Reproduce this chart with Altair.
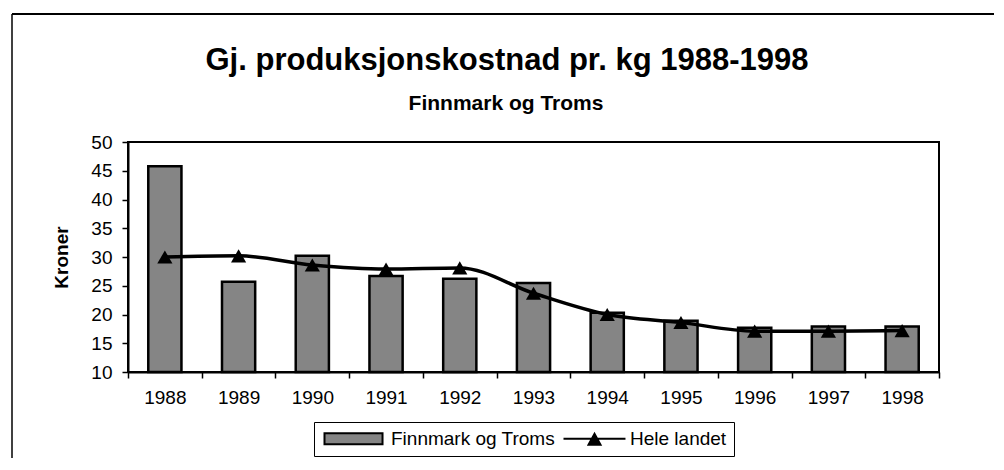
import altair as alt
import pandas as pd

years = ["1988", "1989", "1990", "1991", "1992", "1993", "1994", "1995", "1996", "1997", "1998"]
finnmark = [45.8, 25.7, 30.2, 26.7, 26.2, 25.5, 20.3, 18.9, 17.7, 17.9, 17.9]
hele_landet = [30.0, 30.2, 28.6, 27.9, 28.1, 23.7, 20.0, 18.6, 17.1, 17.1, 17.2]
series_names = ["Finnmark og Troms", "Hele landet"]
y_ticks = [10, 15, 20, 25, 30, 35, 40, 45, 50]
title_text = ["Gj. produksjonskostnad pr. kg 1988-1998"]
subtitle_text = ["Finnmark og Troms"]
y_title = "Kroner"

FONT = "Liberation Sans"
BAR_FILL = "#858585"

df = pd.DataFrame({
    "year": years * 2,
    "value": finnmark + hele_landet,
    "series": [series_names[0]] * len(years) + [series_names[1]] * len(years),
})

x_enc = alt.X(
    "year:N",
    title=None,
    sort=years,
    scale=alt.Scale(paddingInner=0, paddingOuter=0),
    axis=alt.Axis(labelAngle=0, tickBand="extent", tickSize=6, tickWidth=1.5,
                  labelPadding=10, labelFontSize=19, domainWidth=2, labelOverlap=False),
)
y_enc = alt.Y(
    "value:Q",
    title=y_title,
    scale=alt.Scale(domain=[10, 50], zero=False, nice=False),
    axis=alt.Axis(values=y_ticks, grid=False, tickSize=6, tickWidth=1.5, labelPadding=10,
                  labelFontSize=19, domainWidth=2, titleFontSize=19, titleFontWeight="bold",
                  titleX=-61, titleY=115, titleAngle=-90, titleAlign="center",
                  titleBaseline="alphabetic", labelOverlap=False),
)

base = alt.Chart(df)

bars = base.transform_filter(alt.datum.series == series_names[0]).mark_bar(
    fill=BAR_FILL, stroke="black", strokeWidth=2.5, width=alt.RelativeBandSize(0.45)
).encode(x=x_enc, y=y_enc, y2=alt.Y2Datum(10))

line = base.transform_filter(alt.datum.series == series_names[1]).mark_line(
    color="black", strokeWidth=3.5, interpolate="monotone"
).encode(x=x_enc, y=y_enc)

points = base.transform_filter(alt.datum.series == series_names[1]).mark_point(
    shape="triangle-up", filled=True, fill="black", size=230, opacity=1
).encode(x=x_enc, y=y_enc)

bar_path = "M-1,-0.9H8.67V0.9H-1Z"
line_path = "M-1,0H9.33M3.17,1L4.17,-0.83L5.17,1Z"

legend_def = alt.Legend(
    title=None, orient="none", legendX=186, legendY=280, direction="horizontal",
    strokeColor="black", fillColor="white", padding=7, labelFontSize=19, labelFont=FONT,
    labelColor="black", labelLimit=400, symbolSize=144, symbolStrokeColor="black",
    symbolStrokeWidth=2, symbolOpacity=1, labelOffset=51, columnPadding=4,
)

legend_layer = base.transform_filter("false").mark_point(
    filled=True, strokeWidth=2
).encode(
    fill=alt.Fill("series:N", scale=alt.Scale(domain=series_names, range=[BAR_FILL, "black"]),
                  legend=legend_def),
    stroke=alt.Stroke("series:N", scale=alt.Scale(domain=series_names, range=["black", "black"]),
                      legend=legend_def),
    shape=alt.Shape("series:N", scale=alt.Scale(domain=series_names, range=[bar_path, line_path]),
                    legend=legend_def),
)

title = alt.Chart(pd.DataFrame({"t": title_text})).mark_text(
    font=FONT, fontSize=31, fontWeight="bold", color="black", align="center", baseline="alphabetic"
).encode(text="t:N", x=alt.value(379), y=alt.value(-72))

subtitle = alt.Chart(pd.DataFrame({"t": subtitle_text})).mark_text(
    font=FONT, fontSize=21, fontWeight="bold", color="black", align="center", baseline="alphabetic"
).encode(text="t:N", x=alt.value(378), y=alt.value(-32))

frame_top = alt.Chart(pd.DataFrame({"a": [0]})).mark_rule(color="black", strokeWidth=2).encode(
    x=alt.value(-116), x2=alt.value(876), y=alt.value(-128)
)
frame_left = alt.Chart(pd.DataFrame({"a": [0]})).mark_rule(color="black", strokeWidth=1.5).encode(
    x=alt.value(-116), y=alt.value(-128), y2=alt.value(320)
)

chart = alt.layer(
    frame_top, frame_left, bars, line, points, legend_layer, title, subtitle
).properties(
    width=811, height=230,
    autosize=alt.AutoSizeParams(type="none"),
    padding={"left": 120, "top": 134, "right": 55, "bottom": 86},
).configure(
    font=FONT,
).configure_view(
    stroke="black", strokeWidth=2,
).configure_axis(
    domainColor="black", tickColor="black", labelColor="black", titleColor="black",
    labelFont=FONT, titleFont=FONT,
)

chart.save("out.html", embed_options={"renderer": "svg", "actions": False})
